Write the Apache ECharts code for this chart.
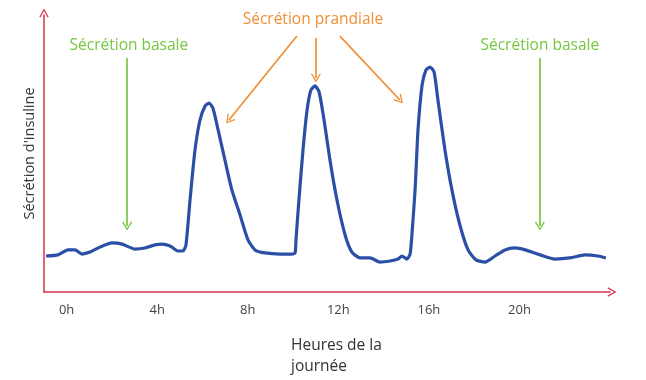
<!DOCTYPE html>
<html><head><meta charset="utf-8">
<script src="https://cdn.jsdelivr.net/npm/echarts@6/dist/echarts.min.js"></script>
<style>html,body{margin:0;padding:0;background:#fff}#c{width:646px;height:380px}</style>
</head><body><div id="c"></div>
<script>
// Heures de la journée (h) and insulin secretion level (relative units)
const hours = [-0.91,-0.38,0.06,0.37,0.68,1.03,1.47,2.0,2.45,3.02,3.46,3.9,4.21,4.57,4.92,5.14,
  5.27,5.45,5.67,5.89,6.11,6.29,6.46,6.69,6.99,7.30,7.66,8.01,8.32,8.76,9.42,9.95,10.09,
  10.13,10.26,10.44,10.62,10.79,10.97,11.15,11.37,11.63,11.94,12.30,12.60,12.96,13.40,13.84,14.28,14.64,14.81,15.03,15.17,
  15.25,15.39,15.52,15.70,15.87,16.05,16.23,16.40,16.71,17.02,17.37,17.73,18.08,18.48,18.92,19.36,19.80,20.25,20.91,21.57,22.23,22.90,23.47,23.82];
const secretion = [13.0,13.4,15.2,15.2,13.7,14.4,16.2,17.7,17.3,15.5,15.9,17.0,17.3,16.6,14.8,14.8,
  17.0,33.2,51.3,62.1,67.1,68.2,66.4,58.5,47.7,36.8,27.8,18.8,15.2,14.1,13.7,13.7,14.1,
  18.8,33.2,51.3,65.7,72.9,74.4,72.2,62.1,47.7,33.2,20.6,14.4,12.3,12.3,10.8,11.2,11.9,13.0,11.9,13.7,
  20.6,36.8,58.5,74.7,80.1,81.2,79.4,69.3,51.3,36.8,24.2,15.2,11.6,10.8,13.0,15.2,15.9,15.2,13.4,11.9,12.3,13.4,13.0,12.3];
const tickHours = [0,4,8,12,16,20];
const tickLabels = ['0h','4h','8h','12h','16h','20h'];
// annotations (hour, level)
const labelBasale = 'Sécrétion basale';
const labelPrandiale = 'Sécrétion prandiale';
const basaleTexts = [[2.75, 88.8],[20.9, 88.8]];
const basaleArrows = [[[2.67,84.5],[2.67,23.8]], [[20.9,84.5],[20.9,23.8]]];
const prandialeText = [10.88, 98.2];
const prandialeArrows = [[[10.17,92.4],[7.17,62.1]], [[11.01,91.7],[11.01,77.3]], [[12.07,92.4],[14.72,69.3]]];

const RED = '#d8304a', BLUE = '#2b4fa6', GREEN = '#76c640', ORANGE = '#ef9038';
const FONT = '"Open Sans", "Noto Sans", sans-serif';
const chevron = 'path://M0,9 L5,0 L10,9 L8.8,9.6 L5,2.6 L1.2,9.6 Z';

const arrowLines = [];
basaleArrows.forEach(a => arrowLines.push([{coord:a[0], lineStyle:{color:GREEN}}, {coord:a[1]}]));
prandialeArrows.forEach(a => arrowLines.push([{coord:a[0], lineStyle:{color:ORANGE}}, {coord:a[1]}]));
const textPoints = basaleTexts.map(p => ({coord:p, value:labelBasale, label:{color:GREEN}}));
textPoints.push({coord:prandialeText, value:labelPrandiale, label:{color:ORANGE}});

const chart = echarts.init(document.getElementById('c'));
chart.setOption({
  animation:false,
  backgroundColor:'#fff',
  grid:{left:44, right:36, top:15, bottom:88},
  xAxis:{type:'value', min:-1, max:24, interval:4,
    axisLine:{show:true, onZero:false, lineStyle:{color:RED, width:1.5}, symbol:['none', chevron], symbolSize:[11,9], symbolOffset:[0,2]},
    axisTick:{show:false}, splitLine:{show:false},
    axisLabel:{customValues: tickHours, formatter: v => tickLabels[tickHours.indexOf(v)] || '', color:'#444', fontSize:13, fontFamily:FONT, margin:12}
  },
  yAxis:{type:'value', min:0, max:100,
    name:"Sécrétion d'insuline", nameLocation:'middle', nameGap:7,
    nameTextStyle:{color:'#333', fontSize:14.5, fontFamily:FONT},
    axisLine:{show:true, onZero:false, lineStyle:{color:RED, width:1.5}, symbol:['none', chevron], symbolSize:[11,9], symbolOffset:[0,2]},
    axisTick:{show:false}, axisLabel:{show:false}, splitLine:{show:false}
  },
  graphic:[{type:'text', left:291, top:335, style:{text:'Heures de la\njournée', fill:'#333', font:'15.5px '+FONT, lineHeight:21}}],
  series:[{
    type:'line', data: hours.map((h,i)=>[h, secretion[i]]), showSymbol:false, smooth:0.2,
    lineStyle:{color:BLUE, width:3.2}, itemStyle:{color:BLUE},
    markLine:{silent:true, symbol:['none', chevron], symbolSize:[10,9], lineStyle:{width:1.7, type:'solid'},
      label:{show:false}, data: arrowLines},
    markPoint:{silent:true, symbol:'circle', symbolSize:0,
      label:{show:true, position:'inside', fontSize:15.5, fontFamily:FONT, formatter: p => p.value},
      data: textPoints}
  }]
});
</script></body></html>
